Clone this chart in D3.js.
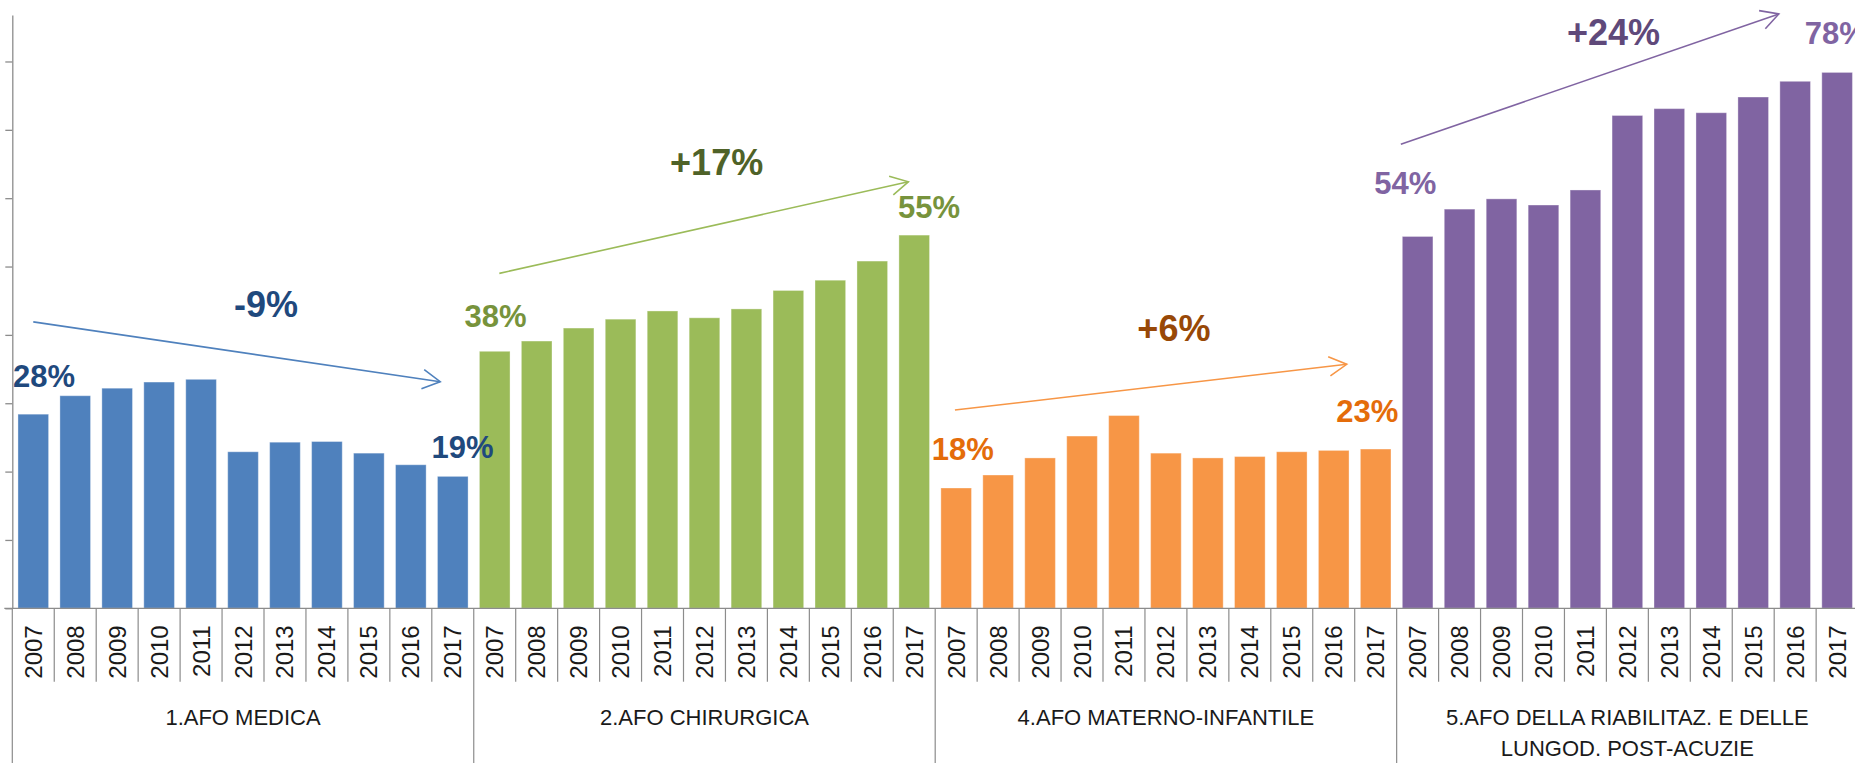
<!DOCTYPE html>
<html lang="it">
<head>
  <meta charset="UTF-8">
  <title>AFO 2007-2017</title>
  <script src="https://cdn.jsdelivr.net/npm/d3@7"></script>
  <style>
    body { margin: 0; background: #fff; }
    svg { display: block; }
  </style>
</head>
<body>
<script>
let width = 1855;
let height = 763;

// data
let years = ['2007', '2008', '2009', '2010', '2011', '2012', '2013', '2014', '2015', '2016', '2017'];
let groups = ['1.AFO MEDICA', '2.AFO CHIRURGICA', '4.AFO MATERNO-INFANTILE',
  '5.AFO DELLA RIABILITAZ. E DELLE LUNGOD. POST-ACUZIE'];
let medica = [28.4, 31.1, 32.2, 33.1, 33.5, 22.9, 24.3, 24.4, 22.7, 21.0, 19.3];
let chirurgica = [37.6, 39.1, 41.0, 42.3, 43.5, 42.5, 43.8, 46.5, 48.0, 50.8, 54.6];
let materno = [17.6, 19.5, 22.0, 25.2, 28.2, 22.7, 22.0, 22.2, 22.9, 23.1, 23.3];
let riabilitaz = [54.4, 58.4, 59.9, 59.0, 61.2, 72.1, 73.1, 72.5, 74.8, 77.1, 78.4];
let changeLabels = ['-9%', '+17%', '+6%', '+24%'];
let yTicks = [0, 10, 20, 30, 40, 50, 60, 70, 80];

let series = [medica, chirurgica, materno, riabilitaz];
let barColors = ['#4F81BD', '#9BBB59', '#F79646', '#8064A2'];
let labelColors = ['#1F497D', '#77933C', '#E46C0A', '#8064A2'];
let changeColors = ['#1F497D', '#4F6228', '#984807', '#5F497A'];

// annotation placement (category units inside the group, values in %)
let arrows = [
  { from: [0.5, 41.9], to: [10.2, 33.15] },
  { from: [0.61, 49.0], to: [10.36, 62.4] },
  { from: [0.47, 29.0], to: [9.81, 35.7] },
  { from: [0.1, 67.9], to: [9.11, 86.95] }
];
let changePos = [[6.05, 42.66], [5.79, 63.4], [5.69, 39.1], [5.17, 82.4]];
// first / last value label offsets from the bar's top-left corner
let endOffsets = [
  [[-5, -27], [-6, -18]],
  [[-15, -24], [-1, -17]],
  [[-9, -28], [-24, -27]],
  [[-28, -42], [-17, -28]]
];

let rows = [];
groups.forEach(function (g, gi) {
  years.forEach(function (y, yi) {
    rows.push({ key: gi + '|' + y, group: gi, year: y, index: yi, value: series[gi][yi] });
  });
});

let left = 12.3;
let baseY = 608.3;
let perCat = 41.95;
let plotRight = left + rows.length * perCat;

let x = d3.scaleBand()
  .domain(rows.map(d => d.key))
  .range([left, plotRight])
  .paddingInner(0.27)
  .paddingOuter(0.135);

let y = d3.scaleLinear()
  .domain([0, 86.8])
  .range([baseY, 15]);

function xAt(gi, pos) {
  return left + (gi * years.length + pos) * x.step();
}

let svg = d3.select('body')
  .append('svg')
  .attr('width', width)
  .attr('height', height);

let axisColor = '#8c8c8c';

// y axis
let yAxis = d3.axisLeft(y)
  .tickValues(yTicks)
  .tickSize(7)
  .tickSizeOuter(0)
  .tickFormat('');

let yg = svg.append('g')
  .attr('transform', 'translate(' + left + ',0)')
  .call(yAxis);
yg.selectAll('path, line').attr('stroke', axisColor).attr('stroke-width', 1.3);

// bars
svg.append('g')
  .selectAll('rect')
  .data(rows)
  .enter()
  .append('rect')
  .attr('x', d => x(d.key))
  .attr('y', d => y(d.value))
  .attr('width', x.bandwidth())
  .attr('height', d => baseY - y(d.value))
  .attr('fill', d => barColors[d.group])
  .attr('stroke', '#fff')
  .attr('stroke-opacity', 0.35)
  .attr('stroke-width', 1);

// x axis: baseline, year separators, group separators
let xg = svg.append('g');
xg.append('line')
  .attr('x1', left - 8).attr('x2', width)
  .attr('y1', baseY).attr('y2', baseY)
  .attr('stroke', axisColor).attr('stroke-width', 1.3);

xg.selectAll('line.sep')
  .data(d3.range(rows.length + 1))
  .enter()
  .append('line')
  .attr('class', 'sep')
  .attr('x1', i => left + i * x.step())
  .attr('x2', i => left + i * x.step())
  .attr('y1', baseY)
  .attr('y2', i => i % years.length === 0 ? height : baseY + 73.4)
  .attr('stroke', axisColor)
  .attr('stroke-width', 1.2);

xg.selectAll('text.year')
  .data(rows)
  .enter()
  .append('text')
  .attr('class', 'year')
  .attr('transform', d => 'translate(' + (x(d.key) + x.bandwidth() / 2 + 8.5) + ',' + (baseY + 17) + ') rotate(-90)')
  .attr('text-anchor', 'end')
  .attr('font-family', 'Liberation Sans, Arial, sans-serif')
  .attr('font-size', 24)
  .attr('fill', '#1a1a1a')
  .text(d => d.year);

// group labels, wrapped like the category axis does
groups.forEach(function (g, gi) {
  let cx = (xAt(gi, 0) + xAt(gi, years.length)) / 2;
  let t = xg.append('text')
    .attr('x', cx)
    .attr('y', 725)
    .attr('text-anchor', 'middle')
    .attr('font-family', 'Liberation Sans, Arial, sans-serif')
    .attr('font-size', 22)
    .attr('fill', '#1a1a1a');
  let words = g.split(' ');
  let line = [];
  let lineNo = 0;
  let ts = t.append('tspan').attr('x', cx).attr('dy', 0);
  words.forEach(function (w) {
    line.push(w);
    ts.text(line.join(' '));
    if (ts.node().getComputedTextLength() > 400 && line.length > 1) {
      line.pop();
      ts.text(line.join(' '));
      line = [w];
      lineNo++;
      ts = t.append('tspan').attr('x', cx).attr('dy', 31).text(w);
    }
  });
});

// first / last value labels
series.forEach(function (vals, gi) {
  [0, vals.length - 1].forEach(function (idx, k) {
    let key = gi + '|' + years[idx];
    svg.append('text')
      .attr('x', x(key) + endOffsets[gi][k][0])
      .attr('y', y(vals[idx]) + endOffsets[gi][k][1])
      .attr('font-family', 'Liberation Sans, Arial, sans-serif')
      .attr('font-weight', 'bold')
      .attr('font-size', 31)
      .attr('fill', labelColors[gi])
      .text(Math.round(vals[idx]) + '%');
  });
});

// trend arrows
arrows.forEach(function (a, gi) {
  let x1 = xAt(gi, a.from[0]), y1 = y(a.from[1]);
  let x2 = xAt(gi, a.to[0]), y2 = y(a.to[1]);
  let ang = Math.atan2(y2 - y1, x2 - x1);
  let len = 20, spread = 0.5;
  let g = svg.append('g')
    .attr('stroke', barColors[gi])
    .attr('stroke-width', 1.6)
    .attr('fill', 'none');
  g.append('line')
    .attr('x1', x1).attr('y1', y1)
    .attr('x2', x2).attr('y2', y2);
  g.append('path')
    .attr('d', d3.line()([
      [x2 - len * Math.cos(ang - spread), y2 - len * Math.sin(ang - spread)],
      [x2, y2],
      [x2 - len * Math.cos(ang + spread), y2 - len * Math.sin(ang + spread)]
    ]));
});

// change labels
changeLabels.forEach(function (lbl, gi) {
  svg.append('text')
    .attr('x', xAt(gi, changePos[gi][0]))
    .attr('y', y(changePos[gi][1]))
    .attr('text-anchor', 'middle')
    .attr('font-family', 'Liberation Sans, Arial, sans-serif')
    .attr('font-weight', 'bold')
    .attr('font-size', 36)
    .attr('fill', changeColors[gi])
    .text(lbl);
});
</script>
</body>
</html>
